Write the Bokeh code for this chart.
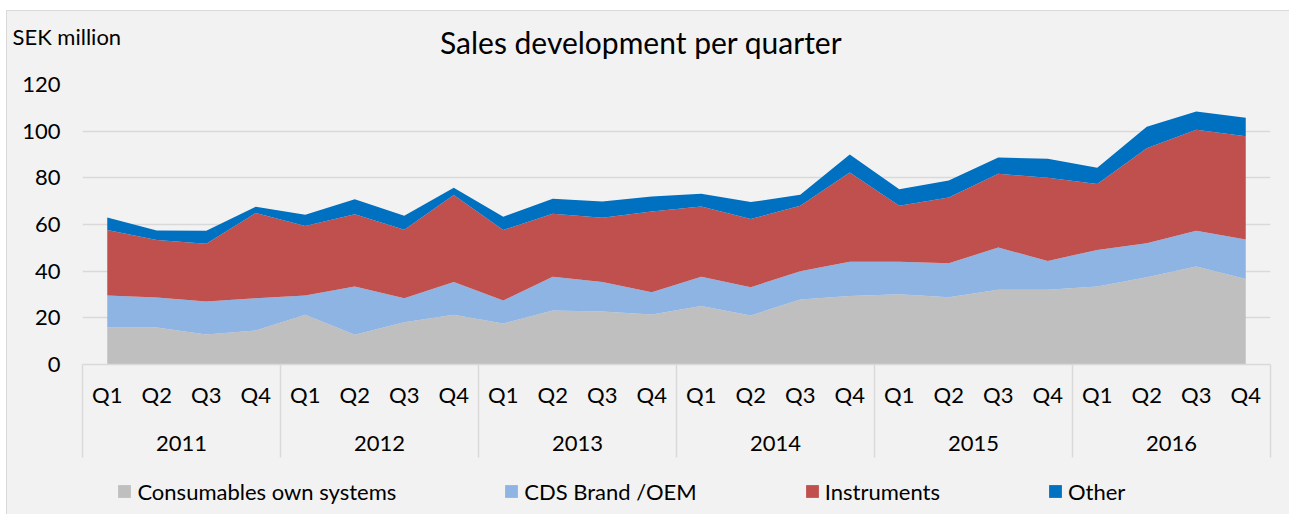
from bokeh.plotting import figure
from bokeh.layouts import column
from bokeh.models import (ColumnDataSource, Range1d, FixedTicker, LinearAxis,
                          Legend, LegendItem, Title, Label)
from bokeh.embed import file_html
from bokeh.resources import INLINE

# ---------------- data ----------------
years = ["2011", "2012", "2013", "2014", "2015", "2016"]
quarters = ["Q1", "Q2", "Q3", "Q4"]

consumables = [15.9, 15.9, 12.9, 14.6,
               21.3, 12.7, 18.1, 21.3,
               17.6, 23.1, 22.7, 21.4,
               25.1, 21.0, 27.9, 29.4,
               30.1, 28.8, 32.0, 32.0,
               33.4, 37.4, 42.0, 36.6]
cds_brand_oem = [13.7, 12.8, 14.1, 13.8,
                 8.3, 20.7, 10.3, 14.1,
                 9.8, 14.5, 12.7, 9.6,
                 12.5, 12.1, 12.1, 14.6,
                 13.9, 14.6, 18.1, 12.4,
                 15.7, 14.6, 15.3, 17.0]
instruments = [28.0, 24.7, 24.7, 36.5,
               29.8, 31.0, 29.3, 37.2,
               30.2, 27.0, 27.5, 34.6,
               30.1, 29.3, 28.0, 38.3,
               24.0, 28.2, 31.6, 35.6,
               28.3, 40.7, 43.3, 44.2]
other = [5.4, 4.0, 5.6, 2.7,
         4.8, 6.4, 6.0, 3.1,
         5.7, 6.4, 7.0, 6.4,
         5.5, 7.2, 4.7, 7.7,
         7.1, 7.3, 7.0, 8.2,
         6.9, 9.2, 7.8, 7.9]

series_names = ["Consumables own systems", "CDS Brand /OEM", "Instruments", "Other"]
series_keys = ["consumables", "cds", "instruments", "other"]
colors = ["#bfbfbf", "#8eb4e3", "#c0504d", "#0070c0"]
y_ticks = [0, 20, 40, 60, 80, 100, 120]

title_text = "Sales development per quarter"
unit_text = "SEK million"

# ---------------- build ----------------
labels = [q for _ in years for q in quarters]
n = len(labels)
x = list(range(n))

src = ColumnDataSource(dict(x=x, consumables=consumables, cds=cds_brand_oem,
                            instruments=instruments, other=other))

FONT = "Lato"
TXT = "#000000"
GRID = "#d9d9d9"
BG = "#f2f2f2"

p = figure(width=1282, height=459, output_backend="svg", toolbar_location=None,
           x_range=Range1d(-0.5, n - 0.5), y_range=Range1d(y_ticks[0], y_ticks[-1]),
           min_border_left=75, min_border_right=19, min_border_top=73,
           min_border_bottom=106)
p.background_fill_color = BG
p.border_fill_color = BG
p.outline_line_color = None

renderers = p.varea_stack(stackers=series_keys, x="x", color=colors, source=src)

# y axis
ya = p.yaxis[0]
ya.ticker = FixedTicker(ticks=y_ticks)
ya.axis_line_color = None
ya.major_tick_line_color = None
ya.minor_tick_line_color = None
ya.major_tick_out = 0
ya.major_tick_in = 0
ya.major_label_standoff = 22
ya.major_label_text_font = FONT
ya.major_label_text_font_size = "22px"
ya.major_label_text_color = TXT

p.ygrid.ticker = FixedTicker(ticks=y_ticks)
p.ygrid.grid_line_color = GRID
p.ygrid.grid_line_width = 1.5
p.xgrid.visible = False

# quarter axis with year separators as minor ticks
bounds = [i * len(quarters) - 0.5 for i in range(len(years) + 1)]
xa = p.xaxis[0]
xa.ticker = FixedTicker(ticks=x, minor_ticks=bounds)
xa.major_label_overrides = {i: lab for i, lab in enumerate(labels)}
xa.major_tick_line_color = None
xa.major_tick_out = 0
xa.major_tick_in = 0
xa.minor_tick_in = 0
xa.minor_tick_out = 93
xa.minor_tick_line_color = GRID
xa.minor_tick_line_width = 1.5
xa.axis_line_color = GRID
xa.axis_line_width = 1.5
xa.major_label_standoff = -77
xa.major_label_text_font = FONT
xa.major_label_text_font_size = "22px"
xa.major_label_text_color = TXT

# year axis
centers = [i * len(quarters) + (len(quarters) - 1) / 2 for i in range(len(years))]
year_axis = LinearAxis(ticker=FixedTicker(ticks=centers),
                       major_label_overrides={c: yv for c, yv in zip(centers, years)})
year_axis.axis_line_color = None
year_axis.major_tick_line_color = None
year_axis.minor_tick_line_color = None
year_axis.major_tick_out = 0
year_axis.major_tick_in = 0
year_axis.major_label_standoff = 25
year_axis.major_label_text_font = FONT
year_axis.major_label_text_font_size = "22px"
year_axis.major_label_text_color = TXT
p.add_layout(year_axis, "below")

# unit label (closest to frame) and title above it
unit = Label(x=-70, y=48, x_units="screen", y_units="screen", text=unit_text,
             text_align="left", text_baseline="middle",
             text_font=FONT, text_font_size="22px", text_color=TXT)
p.add_layout(unit, "above")
title = Title(text=title_text, align="left", offset=357.5, vertical_align="bottom",
              text_font=FONT, text_font_size="30px", text_font_style="normal",
              text_color=TXT, standoff=-4)
p.add_layout(title, "above")

# legend strip (same series, drawn out of view so only the legend shows)
leg = figure(width=1282, height=44, output_backend="svg", toolbar_location=None,
             x_range=Range1d(-10, -9), y_range=Range1d(0, 1),
             x_axis_location=None, y_axis_location=None,
             min_border_left=0, min_border_right=0, min_border_top=0, min_border_bottom=0)
leg.background_fill_color = None
leg.border_fill_color = None
leg.outline_line_color = None
leg.grid.visible = False
leg_renderers = leg.varea_stack(stackers=series_keys, x="x", color=colors, source=src)
legend = Legend(items=[LegendItem(label=nm, renderers=[r]) for nm, r in zip(series_names, leg_renderers)],
                orientation="horizontal", location=(34.4, 9.5),
                glyph_width=16, glyph_height=16, label_standoff=5, spacing=107,
                padding=0, margin=0, border_line_color=None, background_fill_alpha=0,
                label_text_font=FONT, label_text_font_size="22px", label_text_color=TXT)
leg.add_layout(legend)

layout = column(p, leg, spacing=0)
layout.styles = {"margin-left": "6px", "margin-top": "10px", "background-color": BG,
                 "border-left": "1px solid #d9d9d9", "border-top": "1px solid #d9d9d9"}

open("out.html", "w").write(file_html(layout, INLINE))
